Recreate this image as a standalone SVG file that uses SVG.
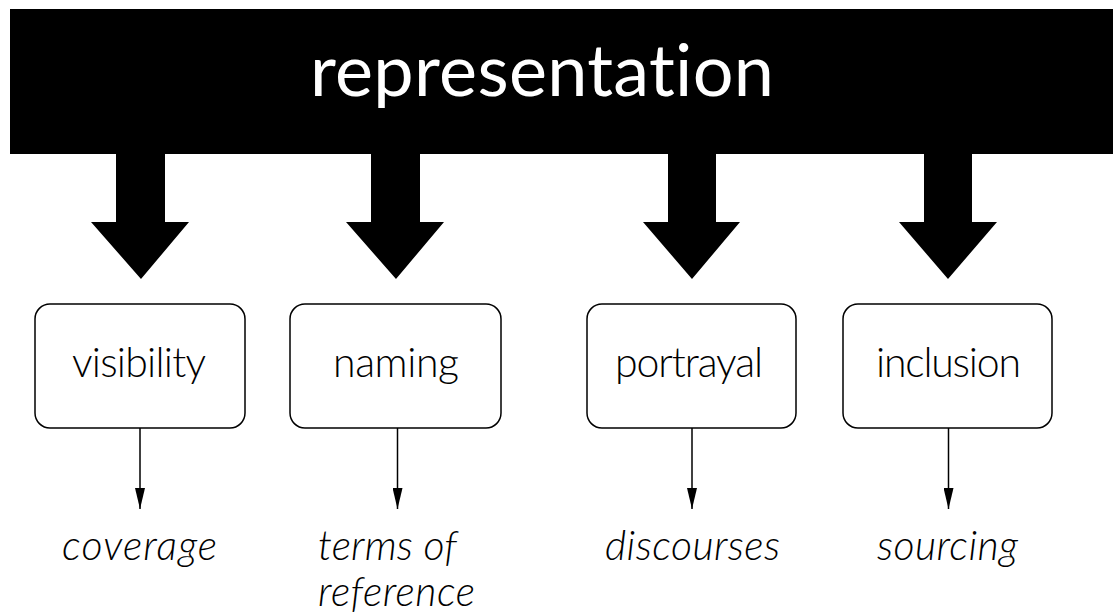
<svg xmlns="http://www.w3.org/2000/svg" width="1113" height="615" viewBox="0 0 1113 615">
  <defs>
    <style>
      text { font-variant-ligatures: none; }
      .title { font-family: Lato, "Liberation Sans", sans-serif; font-size: 72px; font-weight: 400; fill: #ffffff; text-anchor: middle; }
      .box { fill: #ffffff; stroke: #000000; stroke-width: 1.5; }
      .lbl { font-family: Lato, "Liberation Sans", sans-serif; font-size: 41px; font-weight: 300; fill: #000000; text-anchor: middle; }
      .out { font-family: Lato, "Liberation Sans", sans-serif; font-size: 41px; font-weight: 300; font-style: italic; fill: #000000; }
      .big { fill: #000000; }
      .thin { stroke: #000000; stroke-width: 1.5; fill: none; marker-end: url(#ah); }
    </style>
    <marker id="ah" viewBox="0 0 21 10" refX="21" refY="5" markerWidth="21" markerHeight="10" markerUnits="userSpaceOnUse" orient="auto">
      <path d="M0,0 L21,5 L0,10 z" fill="#000000"/>
    </marker>
  </defs>
  <rect width="1113" height="615" fill="#ffffff"/>

  <g id="representation">
    <rect x="10" y="9" width="1103" height="145" fill="#000000"/>
    <text class="title" x="542" y="96" textLength="464">representation</text>
  </g>

  <g id="connectors">
    <polygon class="big" points="116,153 165,153 165,222 189,222 141,279 91,222 116,222"/>
    <polygon class="big" points="371,153 420,153 420,222 444,222 396,279 346,222 371,222"/>
    <polygon class="big" points="668,153 716,153 716,222 740,222 692,279 643,222 668,222"/>
    <polygon class="big" points="924,153 972,153 972,222 997,222 948,279 899,222 924,222"/>
    <line class="thin" x1="140" y1="428" x2="140" y2="509"/>
    <line class="thin" x1="397.5" y1="428" x2="397.5" y2="509"/>
    <line class="thin" x1="692" y1="428" x2="692" y2="509"/>
    <line class="thin" x1="948.5" y1="428" x2="948.5" y2="509"/>
  </g>

  <g id="visibility">
    <rect class="box" x="35" y="304" width="210" height="124" rx="15" ry="15"/>
    <text class="lbl" x="139" y="377" textLength="134">visibility</text>
  </g>
  <g id="naming">
    <rect class="box" x="290" y="304" width="211" height="124" rx="15" ry="15"/>
    <text class="lbl" x="396" y="377" textLength="126">naming</text>
  </g>
  <g id="portrayal">
    <rect class="box" x="587" y="304" width="209" height="124" rx="15" ry="15"/>
    <text class="lbl" x="689" y="377" textLength="148">portrayal</text>
  </g>
  <g id="inclusion">
    <rect class="box" x="843" y="304" width="209" height="124" rx="15" ry="15"/>
    <text class="lbl" x="948.5" y="377" textLength="145">inclusion</text>
  </g>

  <g id="coverage">
    <text class="out" x="62" y="560" textLength="155">coverage</text>
  </g>
  <g id="terms-of-reference">
    <text class="out" x="318" y="560" textLength="139">terms of</text>
    <text class="out" x="318" y="606" textLength="157">reference</text>
  </g>
  <g id="discourses">
    <text class="out" x="605" y="560" textLength="175">discourses</text>
  </g>
  <g id="sourcing">
    <text class="out" x="877" y="560" textLength="141">sourcing</text>
  </g>
</svg>
